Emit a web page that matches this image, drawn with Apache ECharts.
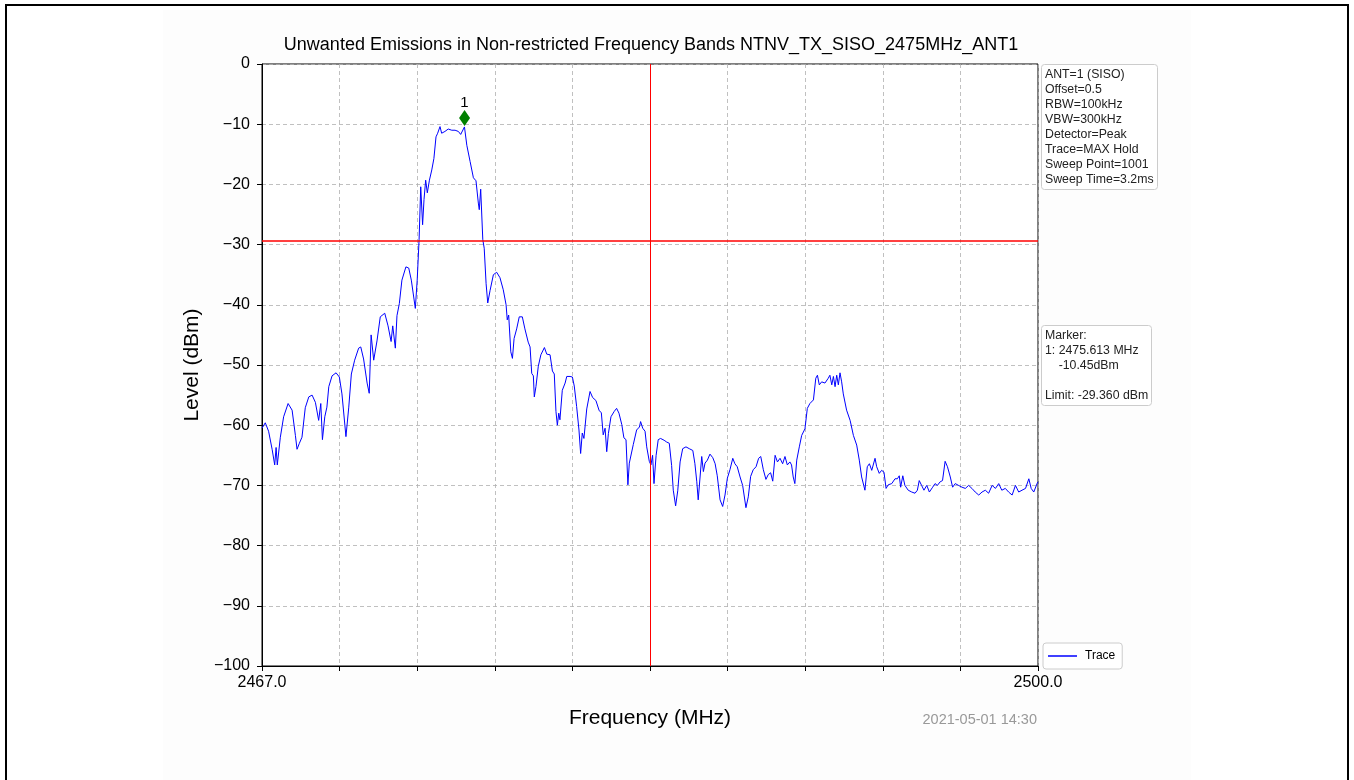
<!DOCTYPE html>
<html>
<head>
<meta charset="utf-8">
<script src="https://cdn.jsdelivr.net/npm/echarts@6/dist/echarts.min.js"></script>
<style>
  body { margin: 0; background: #fff; }
  #frame { position: absolute; left: 5px; top: 4px; width: 1340px; height: 800px; border: 2px solid #000; }
  #panel { position: absolute; left: 163px; top: 10px; width: 1028px; height: 780px; background: #fdfdfd; }
  #chart { position: absolute; left: 0; top: 0; width: 1354px; height: 780px; }
</style>
</head>
<body>
<div id="frame"></div>
<div id="panel"></div>
<div id="chart"></div>
<script>
const FONT = "'Liberation Sans', Arial, sans-serif";

// trace (MHz, dBm)
const freqMHz = [
  2467.00, 2467.14, 2467.28, 2467.43, 2467.54, 2467.60, 2467.65, 2467.78, 2467.92, 2468.11,
  2468.28, 2468.42, 2468.49, 2468.59, 2468.70, 2468.84, 2468.99, 2469.13, 2469.27, 2469.41,
  2469.50, 2469.57, 2469.67, 2469.76, 2469.84, 2469.98, 2470.15, 2470.29, 2470.40, 2470.57,
  2470.69, 2470.80, 2470.94, 2471.11, 2471.20, 2471.32, 2471.47, 2471.56, 2471.64, 2471.75,
  2471.89, 2472.03, 2472.22, 2472.36, 2472.49, 2472.56, 2472.67, 2472.74, 2472.84, 2472.95,
  2473.12, 2473.24, 2473.35, 2473.52, 2473.60, 2473.68, 2473.75, 2473.83, 2473.89, 2473.96,
  2474.03, 2474.12, 2474.22, 2474.31, 2474.40, 2474.47, 2474.57, 2474.64, 2474.78, 2474.92,
  2475.07, 2475.21, 2475.35, 2475.45, 2475.61, 2475.71, 2475.85, 2475.99, 2476.10, 2476.20,
  2476.24, 2476.30, 2476.39, 2476.45, 2476.53, 2476.60, 2476.70, 2476.84, 2476.98, 2477.12,
  2477.26, 2477.38, 2477.43, 2477.49, 2477.58, 2477.65, 2477.72, 2477.83, 2477.94, 2478.07,
  2478.18, 2478.32, 2478.40, 2478.47, 2478.54, 2478.58, 2478.65, 2478.75, 2478.86, 2479.01,
  2479.11, 2479.25, 2479.35, 2479.43, 2479.50, 2479.56, 2479.62, 2479.67, 2479.77, 2479.89,
  2479.96, 2480.10, 2480.20, 2480.28, 2480.38, 2480.48, 2480.55, 2480.62, 2480.69, 2480.81,
  2480.95, 2481.06, 2481.20, 2481.34, 2481.43, 2481.51, 2481.59, 2481.66, 2481.73, 2481.84,
  2481.98, 2482.08, 2482.18, 2482.30, 2482.39, 2482.48, 2482.56, 2482.62, 2482.69, 2482.79,
  2482.93, 2483.05, 2483.10, 2483.19, 2483.29, 2483.36, 2483.47, 2483.54, 2483.61, 2483.67,
  2483.76, 2483.85, 2483.95, 2484.10, 2484.21, 2484.32, 2484.42, 2484.49, 2484.59, 2484.68,
  2484.78, 2484.89, 2485.03, 2485.17, 2485.32, 2485.41, 2485.49, 2485.55, 2485.63, 2485.70,
  2485.77, 2485.84, 2485.94, 2486.05, 2486.17, 2486.27, 2486.36, 2486.48, 2486.59, 2486.69,
  2486.79, 2486.90, 2487.02, 2487.11, 2487.21, 2487.33, 2487.44, 2487.58, 2487.68, 2487.78,
  2487.89, 2488.01, 2488.12, 2488.21, 2488.32, 2488.43, 2488.53, 2488.63, 2488.72, 2488.82,
  2488.92, 2489.03, 2489.14, 2489.24, 2489.34, 2489.45, 2489.52, 2489.59, 2489.66, 2489.74,
  2489.85, 2489.95, 2490.09, 2490.19, 2490.30, 2490.45, 2490.55, 2490.62, 2490.70, 2490.80,
  2490.94, 2491.08, 2491.15, 2491.23, 2491.30, 2491.37, 2491.44, 2491.51, 2491.58, 2491.65,
  2491.72, 2491.86, 2492.01, 2492.15, 2492.29, 2492.40, 2492.50, 2492.64, 2492.74, 2492.83,
  2492.93, 2493.07, 2493.14, 2493.25, 2493.35, 2493.45, 2493.54, 2493.63, 2493.78, 2493.92,
  2494.02, 2494.10, 2494.16, 2494.25, 2494.34, 2494.48, 2494.63, 2494.77, 2494.87, 2494.95,
  2495.05, 2495.15, 2495.27, 2495.38, 2495.52, 2495.62, 2495.72, 2495.84, 2495.94, 2496.05,
  2496.15, 2496.27, 2496.37, 2496.48, 2496.62, 2496.77, 2496.91, 2497.05, 2497.19, 2497.33,
  2497.48, 2497.62, 2497.76, 2497.90, 2498.05, 2498.19, 2498.33, 2498.46, 2498.61, 2498.75,
  2498.90, 2499.04, 2499.18, 2499.32, 2499.47, 2499.61, 2499.71, 2499.82, 2499.89, 2499.96,
  2500.00
];
const levelDbm = [
  -60.5, -59.6, -61.0, -64.0, -66.6, -63.7, -66.6, -62.0, -58.6, -56.4,
  -57.5, -61.7, -64.0, -63.0, -62.0, -57.1, -55.3, -55.0, -56.2, -59.2,
  -56.4, -62.4, -58.6, -57.0, -53.6, -51.8, -51.3, -52.0, -54.8, -61.9,
  -57.0, -51.5, -49.2, -47.2, -47.0, -49.0, -53.0, -54.7, -45.0, -49.2,
  -46.0, -42.0, -41.4, -43.5, -46.1, -43.5, -47.2, -41.8, -39.8, -35.9,
  -33.7, -33.9, -35.9, -40.6, -35.9, -29.2, -20.4, -26.7, -22.5, -19.3,
  -21.4, -19.3, -17.6, -15.7, -12.1, -11.5, -10.4, -11.5, -11.2, -10.8,
  -11.0, -11.0, -11.2, -11.7, -10.45, -13.5, -16.2, -18.9, -19.4, -23.1,
  -24.2, -20.8, -29.2, -30.6, -36.5, -39.7, -37.6, -35.0, -34.6, -35.5,
  -37.5, -40.0, -42.5, -41.7, -47.8, -48.9, -45.6, -44.0, -42.0, -42.0,
  -44.0, -46.2, -47.0, -51.4, -51.8, -55.3, -53.6, -50.2, -48.3, -47.1,
  -48.2, -48.3, -51.0, -51.5, -57.7, -60.0, -58.0, -59.1, -54.2, -53.0,
  -51.9, -51.9, -52.0, -53.5, -56.9, -60.8, -64.7, -61.3, -62.2, -57.3,
  -54.4, -55.4, -55.9, -57.6, -57.9, -61.6, -60.5, -64.4, -61.4, -58.6,
  -57.7, -57.2, -58.0, -59.9, -62.1, -62.4, -69.9, -66.3, -66.1, -63.2,
  -60.8, -60.3, -59.4, -60.5, -61.0, -63.6, -66.0, -66.6, -65.0, -69.7,
  -65.0, -62.4, -62.2, -62.5, -62.8, -63.0, -66.7, -70.8, -73.4, -70.9,
  -66.1, -63.9, -63.6, -63.9, -64.2, -66.4, -69.4, -72.4, -72.1, -65.2,
  -67.7, -66.3, -65.8, -64.8, -65.4, -66.4, -68.4, -72.4, -73.5, -71.6,
  -68.8, -67.4, -65.5, -66.4, -66.9, -68.6, -70.0, -73.7, -71.9, -68.5,
  -67.4, -66.9, -65.5, -65.2, -67.4, -69.0, -68.2, -67.9, -69.3, -65.0,
  -66.1, -65.5, -66.4, -65.2, -66.6, -66.1, -66.6, -68.6, -69.7, -65.8,
  -63.6, -61.7, -60.6, -57.2, -56.4, -55.8, -52.2, -51.7, -53.3, -52.8,
  -53.0, -52.2, -51.7, -53.3, -51.9, -53.6, -51.7, -53.3, -51.3, -52.8,
  -54.8, -57.5, -59.2, -61.7, -63.3, -65.8, -68.6, -70.8, -66.9, -66.4,
  -67.5, -65.5, -66.9, -68.0, -67.5, -67.8, -70.5, -69.9, -69.7, -68.9,
  -68.9, -68.4, -70.3, -68.4, -70.0, -70.8, -71.1, -71.3, -70.8, -69.2,
  -70.0, -70.8, -70.0, -71.1, -70.3, -69.7, -70.0, -69.4, -69.2, -66.0,
  -66.9, -68.6, -70.3, -69.7, -70.0, -70.3, -70.5, -70.0, -70.5, -71.1,
  -71.6, -71.1, -70.8, -71.3, -70.0, -70.5, -69.7, -70.8, -70.5, -71.1,
  -71.6, -70.0, -71.1, -70.8, -70.5, -68.9, -70.5, -71.1, -71.3, -69.7,
  -69.4
];

const freqMin = 2467.0;
const freqMax = 2500.0;
const xTickLabels = ["2467.0", "", "", "", "", "", "", "", "", "", "2500.0"];
const limitDbm = -29.36;
const centerFreq = 2483.5;
const markerFreq = 2475.613;
const markerLevel = -10.45;

const setupLines = [
  "ANT=1 (SISO)", "Offset=0.5", "RBW=100kHz", "VBW=300kHz",
  "Detector=Peak", "Trace=MAX Hold", "Sweep Point=1001", "Sweep Time=3.2ms"
];
const markerLines = [
  "Marker:",
  "1: " + markerFreq.toFixed(3) + " MHz",
  "    " + markerLevel.toFixed(2) + "dBm",
  "",
  "Limit: " + limitDbm.toFixed(3) + " dBm"
];

const chart = echarts.init(document.getElementById("chart"));

const boxStyle = {
  borderColor: "#cccccc",
  borderWidth: 1,
  borderRadius: 3,
  padding: [3, 4, 3, 4],
  backgroundColor: "#ffffff",
  textStyle: { fontFamily: FONT, fontSize: 12.3, fontWeight: "normal", color: "#222", lineHeight: 15 }
};

chart.setOption({
  animation: false,
  textStyle: { fontFamily: FONT },
  title: [
    {
      text: "Unwanted Emissions in Non-restricted Frequency Bands NTNV_TX_SISO_2475MHz_ANT1",
      left: 651, top: 36, textAlign: "center", padding: 0,
      textStyle: { fontFamily: FONT, fontSize: 18, fontWeight: "normal", color: "#000" }
    },
    Object.assign({ text: setupLines.join("\n"), left: 1041, top: 64 }, boxStyle),
    Object.assign({ text: markerLines.join("\n"), left: 1041, top: 325 }, boxStyle),
    {
      text: "2021-05-01 14:30",
      right: 317, top: 712, padding: 0,
      textStyle: { fontFamily: FONT, fontSize: 14.5, fontWeight: "normal", color: "#999" }
    }
  ],
  legend: {
    data: [{ name: "Trace", icon: "rect" }],
    left: 1043, top: 643,
    itemWidth: 29, itemHeight: 1.5, itemGap: 4,
    padding: [7, 7, 7, 5],
    borderColor: "#cccccc", borderWidth: 1, borderRadius: 3,
    backgroundColor: "#fff",
    textStyle: { fontFamily: FONT, fontSize: 12, color: "#000", padding: [0, 0, 0, 3] }
  },
  grid: {
    left: 262, right: 316, top: 64, bottom: 114,
    show: true, borderColor: "#000", borderWidth: 1, backgroundColor: "#fff"
  },
  xAxis: [
    {
      type: "value", min: freqMin, max: freqMax, show: false,
      splitLine: { show: false }
    },
    {
      type: "value", min: 0, max: 10, interval: 1, position: "bottom",
      name: "Frequency (MHz)", nameLocation: "middle", nameGap: 42,
      nameTextStyle: { fontFamily: FONT, fontSize: 21, color: "#000" },
      axisLine: { lineStyle: { color: "#000", width: 1 } },
      axisTick: { show: true, length: 5, lineStyle: { color: "#000" } },
      axisLabel: {
        fontFamily: FONT, fontSize: 16, color: "#000", margin: 9,
        formatter: v => xTickLabels[Math.round(v)] || ""
      },
      splitLine: { show: true, lineStyle: { color: "#b0b0b0", type: [4, 3], width: 0.8 } }
    }
  ],
  yAxis: {
    type: "value", min: -100, max: 0, interval: 10,
    name: "Level (dBm)", nameLocation: "middle", nameGap: 58,
    nameTextStyle: { fontFamily: FONT, fontSize: 21, color: "#000" },
    axisLine: { show: true, lineStyle: { color: "#000", width: 1 } },
    axisTick: { show: true, length: 5, lineStyle: { color: "#000" } },
    axisLabel: {
      fontFamily: FONT, fontSize: 16, color: "#000", margin: 12,
      formatter: v => String(v).replace("-", "\u2212")
    },
    splitLine: { show: true, lineStyle: { color: "#b0b0b0", type: [4, 3], width: 0.8 } }
  },
  series: [
    {
      name: "Trace",
      type: "line",
      xAxisIndex: 0,
      symbol: "none",
      data: freqMHz.map((f, i) => [f, levelDbm[i]]),
      lineStyle: { color: "#0000ff", width: 1 },
      itemStyle: { color: "#0000ff" },
      markLine: {
        silent: true,
        symbol: "none",
        label: { show: false },
        data: [
          { xAxis: centerFreq, lineStyle: { color: "#ff0000", width: 1, type: "solid" } },
          { yAxis: limitDbm, lineStyle: { color: "#ff0000", width: 1.5, type: "solid" } }
        ]
      },
      z: 3
    },
    {
      name: "Marker",
      type: "scatter",
      xAxisIndex: 0,
      data: [[markerFreq, markerLevel]],
      symbol: "diamond",
      symbolSize: [11, 16],
      symbolOffset: [0, -9],
      itemStyle: { color: "#008000", opacity: 1 },
      label: {
        show: true, position: "top", distance: 0, offset: [0, 0],
        formatter: "1", fontFamily: FONT, fontSize: 15, color: "#000"
      },
      z: 5
    }
  ]
});
</script>
</body>
</html>
